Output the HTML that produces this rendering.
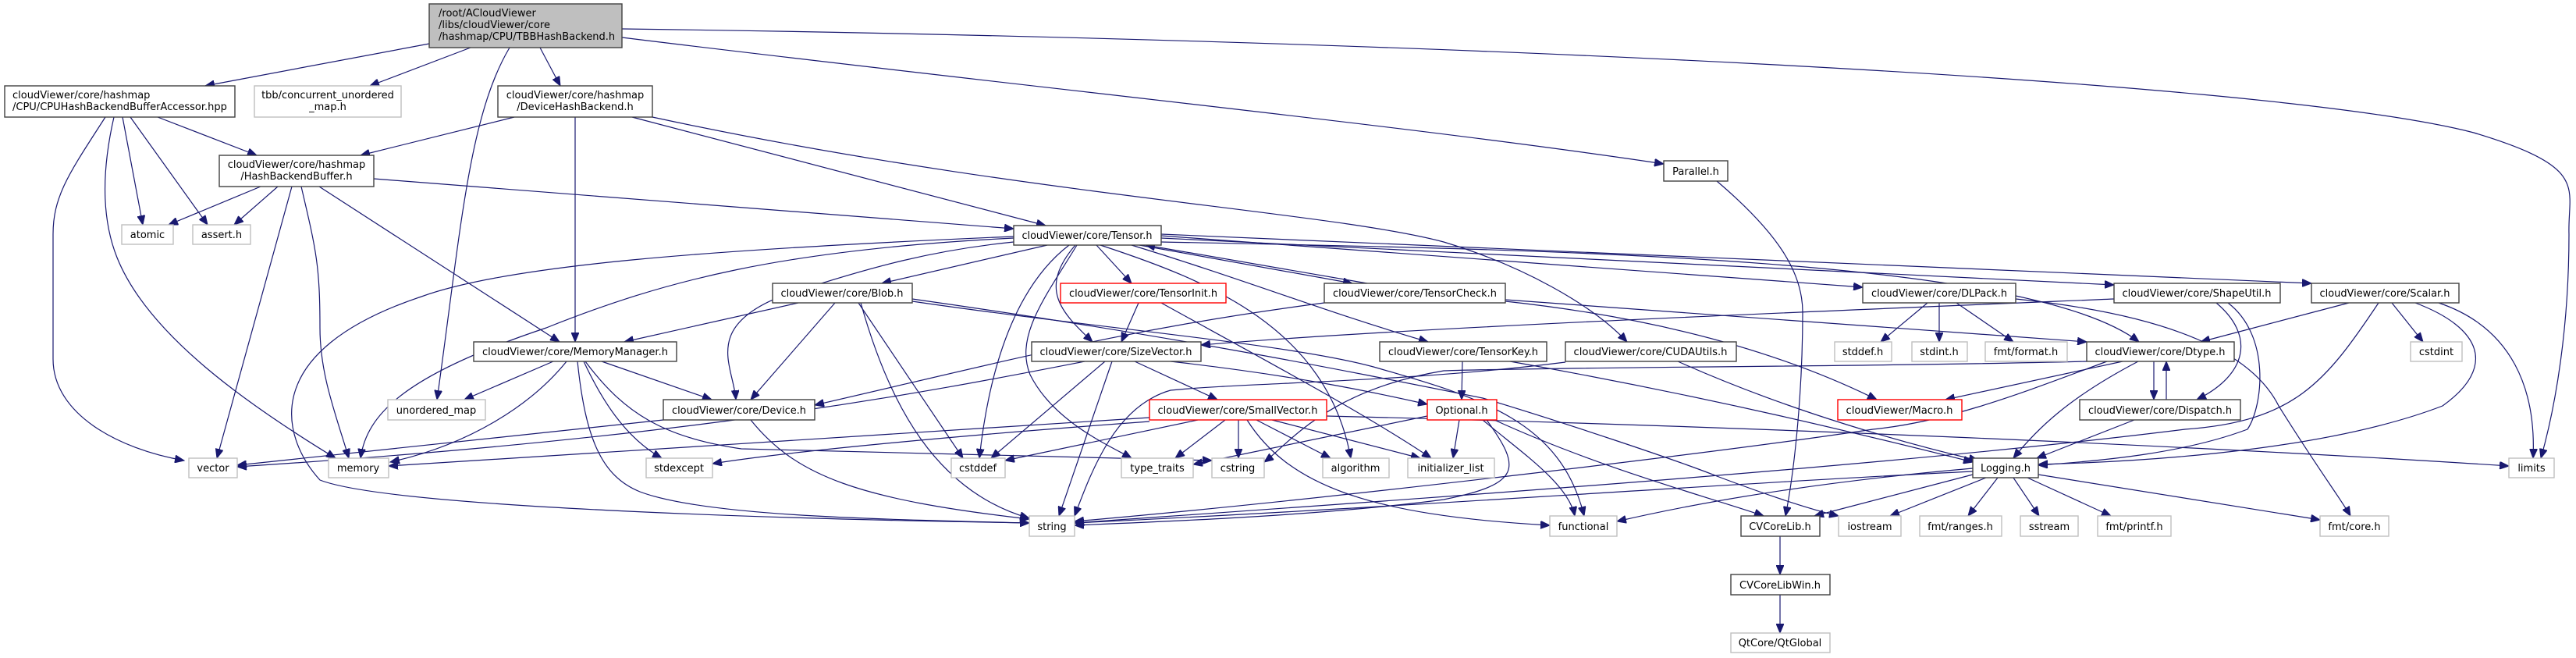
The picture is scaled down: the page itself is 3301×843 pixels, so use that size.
<!DOCTYPE html>
<html><head><meta charset="utf-8"><style>
html,body{margin:0;padding:0;background:#fff;}
svg{display:block;}
text{font-family:"DejaVu Sans","Liberation Sans",sans-serif;font-size:13px;fill:#000;}
.n rect{fill:#fff;stroke:#404040;stroke-width:1.4;}
.g rect{fill:#fff;stroke:#bfbfbf;stroke-width:1.4;}
.r rect{fill:#fff;stroke:#ff0000;stroke-width:1.4;}
path.e{fill:none;stroke:#191970;stroke-width:1.2;marker-end:url(#a);}
</style></head><body>
<svg width="3301" height="843" viewBox="0 0 3301 843" xmlns="http://www.w3.org/2000/svg">
<defs><marker id="a" markerUnits="userSpaceOnUse" markerWidth="13" markerHeight="10" refX="12" refY="5" orient="auto"><path d="M0,0 L12,5 L0,10 z" fill="#191970" stroke="#191970"/></marker></defs>
<g>
<!-- root edges -->
<path class="e" d="M550,56 L263,110"/>
<path class="e" d="M603,61 L474,110"/>
<path class="e" d="M653,61 C600,150 590,300 560,512"/>
<path class="e" d="M692,61 L718,110"/>
<path class="e" d="M797,48 C1300,110 1800,160 2132,210"/>
<path class="e" d="M797,37 C1800,50 2900,100 3170,170 C3320,215 3290,240 3292,300 C3292,420 3275,520 3256,587"/>
<!-- CPU accessor -->
<path class="e" d="M202,150 L329,199"/>
<path class="e" d="M157,150 L183,288"/>
<path class="e" d="M167,150 L266,288"/>
<path class="e" d="M135,150 C90,220 68,250 68,300 L68,460 C68,530 150,575 236,590"/>
<path class="e" d="M146,150 C130,220 130,280 150,330 C190,430 320,520 430,587"/>
<!-- HashBackendBuffer -->
<path class="e" d="M334,239 L216,288"/>
<path class="e" d="M356,239 L300,288"/>
<path class="e" d="M374,239 L278,587"/>
<path class="e" d="M386,239 C405,320 410,340 410,420 C410,480 430,530 447,587"/>
<path class="e" d="M409,239 L717,438"/>
<path class="e" d="M479,229 L1299,293"/>
<!-- DeviceHashBackend -->
<path class="e" d="M659,150 L462,199"/>
<path class="e" d="M737,150 L737,438"/>
<path class="e" d="M810,150 L1340,289"/>
<path class="e" d="M836,150 C1300,250 1700,270 1850,310 C1950,340 2040,390 2085,438"/>
<!-- MemoryManager -->
<path class="e" d="M709,463 L595,512"/>
<path class="e" d="M726,463 C680,520 600,570 500,592"/>
<path class="e" d="M771,463 L912,512"/>
<path class="e" d="M748,463 C770,510 800,560 848,587"/>
<path class="e" d="M740,463 C750,560 770,610 820,630 C900,660 1100,665 1319,670"/>
<path class="e" d="M750,463 C800,530 850,560 950,575 C1200,580 1400,585 1553,590"/>
<!-- Device -->
<path class="e" d="M850,538 L304,596"/>
<path class="e" d="M962,538 C1020,610 1100,640 1319,665"/>
<!-- Blob -->
<path class="e" d="M1023,388 L800,438"/>
<path class="e" d="M1070,388 L962,512"/>
<path class="e" d="M1100,388 L1234,587"/>
<path class="e" d="M1103,388 C1140,520 1200,630 1319,664"/>
<path class="e" d="M1169,383 C1500,430 1700,470 1900,510 C2000,540 2150,590 2200,610 C2280,640 2330,655 2356,661"/>
<path class="e" d="M1169,386 C1400,420 1650,440 1760,470 C1900,510 2000,540 2030,661"/>
<!-- Tensor -->
<path class="e" d="M1342,314 L1130,363"/>
<path class="e" d="M1405,314 L1450,363"/>
<path class="e" d="M1460,314 L1733,363"/>
<path class="e" d="M1752,363 L1468,314"/>
<path class="e" d="M1378,314 C1330,370 1360,400 1400,438"/>
<path class="e" d="M1370,314 C1310,360 1270,450 1255,587"/>
<path class="e" d="M1380,314 C1340,380 1300,430 1320,480 C1350,540 1420,570 1450,587"/>
<path class="e" d="M1410,314 C1550,360 1700,420 1731,587"/>
<path class="e" d="M1450,314 C1600,360 1700,400 1830,438"/>
<path class="e" d="M1488,302 L2387,368"/>
<path class="e" d="M1488,305 L2709,365"/>
<path class="e" d="M1488,300 L2962,363"/>
<path class="e" d="M1488,310 C2000,320 2600,330 2741,438"/>
<path class="e" d="M1299,310 C1200,320 1120,340 1000,380 C900,420 940,470 943,512"/>
<path class="e" d="M1299,305 C1000,320 850,360 700,420 C520,480 470,530 462,587"/>
<path class="e" d="M1299,303 C900,320 650,340 540,380 C330,450 360,560 410,615 C500,650 1000,665 1319,670"/>
<!-- TensorInit -->
<path class="e" d="M1459,388 L1437,438"/>
<path class="e" d="M1488,388 C1600,450 1750,530 1834,587"/>
<!-- TensorCheck -->
<path class="e" d="M1697,388 C1450,420 1300,460 1044,519"/>
<path class="e" d="M1929,384 L2674,438"/>
<path class="e" d="M1929,386 C2150,410 2300,460 2405,512"/>
<!-- TensorKey -->
<path class="e" d="M1874,463 L1873,512"/>
<path class="e" d="M1935,463 C2200,510 2400,560 2528,592"/>
<!-- CUDAUtils -->
<path class="e" d="M2150,463 C2300,530 2450,570 2535,590"/>
<path class="e" d="M2006,464 C1800,490 1600,490 1500,500 C1430,520 1400,600 1377,661"/>
<!-- SizeVector -->
<path class="e" d="M1454,463 L1560,512"/>
<path class="e" d="M1500,463 C1650,480 1750,500 1829,518"/>
<path class="e" d="M1416,463 L1270,587"/>
<path class="e" d="M1425,463 L1357,661"/>
<path class="e" d="M1390,463 C1200,500 900,560 304,598"/>
<path class="e" d="M2709,383 C2300,400 1800,420 1539,442"/>
<!-- SmallVector -->
<path class="e" d="M1535,538 L1288,590"/>
<path class="e" d="M1570,538 L1506,587"/>
<path class="e" d="M1587,538 L1587,587"/>
<path class="e" d="M1610,538 L1705,587"/>
<path class="e" d="M1630,538 L1820,587"/>
<path class="e" d="M1598,538 C1650,620 1750,660 1986,673"/>
<path class="e" d="M1473,535 C1200,550 800,580 498,597"/>
<path class="e" d="M1473,540 C1200,560 1000,580 913,594"/>
<path class="e" d="M1700,533 C2200,545 2800,570 3215,597"/>
<!-- Optional -->
<path class="e" d="M1870,538 L1862,587"/>
<path class="e" d="M1829,533 L1529,595"/>
<path class="e" d="M1900,538 C1950,580 2010,620 2018,661"/>
<path class="e" d="M1905,538 C1950,600 1950,620 1850,640 C1700,660 1500,668 1377,673"/>
<path class="e" d="M1915,538 C2050,600 2200,640 2260,661"/>
<!-- Dtype -->
<path class="e" d="M2720,463 L2493,512"/>
<path class="e" d="M2760,463 L2760,512"/>
<path class="e" d="M2776,512 L2776,463"/>
<path class="e" d="M2740,463 C2650,510 2610,550 2580,587"/>
<path class="e" d="M2700,463 C2600,500 2500,540 2400,550 C2200,580 1700,640 1377,668"/>
<path class="e" d="M2674,463 C2400,470 2000,470 1850,475 C1700,500 1650,570 1620,592"/>
<!-- Dispatch -->
<path class="e" d="M2735,538 L2610,587"/>
<!-- ShapeUtil -->
<path class="e" d="M2840,388 C2890,430 2880,480 2815,512"/>
<path class="e" d="M2855,388 C2910,430 2900,520 2880,550 C2800,580 2700,590 2612,596"/>
<!-- Scalar -->
<path class="e" d="M3010,388 L2820,438"/>
<path class="e" d="M3065,388 L3105,438"/>
<path class="e" d="M3125,388 C3220,420 3250,500 3246,587"/>
<path class="e" d="M3095,388 C3180,420 3200,470 3130,520 C3000,570 2800,590 2612,595"/>
<path class="e" d="M3048,388 C2980,490 2940,540 2800,550 C2400,600 1800,640 1377,670"/>
<!-- DLPack -->
<path class="e" d="M2470,388 L2410,438"/>
<path class="e" d="M2485,388 L2485,438"/>
<path class="e" d="M2507,388 L2580,438"/>
<path class="e" d="M2583,383 C2750,400 2880,440 2920,520 C2970,600 3000,640 3012,661"/>
<!-- Logging -->
<path class="e" d="M2528,608 L2325,661"/>
<path class="e" d="M2545,612 L2422,661"/>
<path class="e" d="M2560,612 L2522,661"/>
<path class="e" d="M2580,612 L2613,661"/>
<path class="e" d="M2598,612 L2705,661"/>
<path class="e" d="M2612,608 L2973,666"/>
<path class="e" d="M2528,604 C2200,620 1800,650 1377,670"/>
<path class="e" d="M2528,600 C2300,620 2150,650 2072,668"/>
<!-- Parallel / CVCoreLib -->
<path class="e" d="M2200,232 C2280,300 2310,350 2310,400 C2310,500 2300,600 2288,661"/>
<path class="e" d="M2281,687 L2281,736"/>
<path class="e" d="M2281,762 L2281,811"/>
</g>
<!-- nodes -->
<g class="n"><rect x="550" y="5" width="247" height="56" style="fill:#bfbfbf"/><text x="562" y="21">/root/ACloudViewer</text><text x="562" y="36">/libs/cloudViewer/core</text><text x="562" y="51">/hashmap/CPU/TBBHashBackend.h</text></g>
<g class="n"><rect x="6" y="110" width="295" height="40"/><text x="16" y="126">cloudViewer/core/hashmap</text><text x="16" y="141">/CPU/CPUHashBackendBufferAccessor.hpp</text></g>
<g class="g"><rect x="326" y="110" width="188" height="40"/><text x="420" y="126" text-anchor="middle">tbb/concurrent_unordered</text><text x="420" y="141" text-anchor="middle">_map.h</text></g>
<g class="n"><rect x="638" y="110" width="198" height="40"/><text x="737" y="126" text-anchor="middle">cloudViewer/core/hashmap</text><text x="737" y="141" text-anchor="middle">/DeviceHashBackend.h</text></g>
<g class="n"><rect x="281" y="199" width="198" height="40"/><text x="380" y="215" text-anchor="middle">cloudViewer/core/hashmap</text><text x="380" y="230" text-anchor="middle">/HashBackendBuffer.h</text></g>
<g class="n"><rect x="2132" y="206" width="82" height="26"/><text x="2173" y="224" text-anchor="middle">Parallel.h</text></g>
<g class="n"><rect x="1299" y="289" width="189" height="25"/><text x="1393" y="306" text-anchor="middle" textLength="167" lengthAdjust="spacingAndGlyphs">cloudViewer/core/Tensor.h</text></g>
<g class="g"><rect x="156" y="288" width="66" height="25"/><text x="189" y="305" text-anchor="middle">atomic</text></g>
<g class="g"><rect x="247" y="288" width="74" height="25"/><text x="284" y="305" text-anchor="middle">assert.h</text></g>
<g class="n"><rect x="990" y="363" width="179" height="25"/><text x="1079" y="380" text-anchor="middle" textLength="157" lengthAdjust="spacingAndGlyphs">cloudViewer/core/Blob.h</text></g>
<g class="r"><rect x="1359" y="363" width="212" height="25"/><text x="1465" y="380" text-anchor="middle" textLength="190" lengthAdjust="spacingAndGlyphs">cloudViewer/core/TensorInit.h</text></g>
<g class="n"><rect x="1697" y="363" width="232" height="25"/><text x="1813" y="380" text-anchor="middle" textLength="210" lengthAdjust="spacingAndGlyphs">cloudViewer/core/TensorCheck.h</text></g>
<g class="n"><rect x="2387" y="363" width="196" height="25"/><text x="2485" y="380" text-anchor="middle" textLength="174" lengthAdjust="spacingAndGlyphs">cloudViewer/core/DLPack.h</text></g>
<g class="n"><rect x="2709" y="363" width="213" height="25"/><text x="2815" y="380" text-anchor="middle" textLength="191" lengthAdjust="spacingAndGlyphs">cloudViewer/core/ShapeUtil.h</text></g>
<g class="n"><rect x="2962" y="363" width="189" height="25"/><text x="3056" y="380" text-anchor="middle" textLength="167" lengthAdjust="spacingAndGlyphs">cloudViewer/core/Scalar.h</text></g>
<g class="n"><rect x="607" y="438" width="260" height="25"/><text x="737" y="455" text-anchor="middle" textLength="238" lengthAdjust="spacingAndGlyphs">cloudViewer/core/MemoryManager.h</text></g>
<g class="n"><rect x="1322" y="438" width="217" height="25"/><text x="1430" y="455" text-anchor="middle" textLength="195" lengthAdjust="spacingAndGlyphs">cloudViewer/core/SizeVector.h</text></g>
<g class="n"><rect x="1768" y="438" width="214" height="25"/><text x="1875" y="455" text-anchor="middle" textLength="192" lengthAdjust="spacingAndGlyphs">cloudViewer/core/TensorKey.h</text></g>
<g class="n"><rect x="2006" y="438" width="219" height="25"/><text x="2115" y="455" text-anchor="middle" textLength="197" lengthAdjust="spacingAndGlyphs">cloudViewer/core/CUDAUtils.h</text></g>
<g class="g"><rect x="2351" y="438" width="73" height="25"/><text x="2387" y="455" text-anchor="middle">stddef.h</text></g>
<g class="g"><rect x="2450" y="438" width="71" height="25"/><text x="2485" y="455" text-anchor="middle">stdint.h</text></g>
<g class="g"><rect x="2544" y="438" width="105" height="25"/><text x="2596" y="455" text-anchor="middle">fmt/format.h</text></g>
<g class="n"><rect x="2674" y="438" width="189" height="25"/><text x="2768" y="455" text-anchor="middle" textLength="167" lengthAdjust="spacingAndGlyphs">cloudViewer/core/Dtype.h</text></g>
<g class="g"><rect x="3089" y="438" width="66" height="25"/><text x="3122" y="455" text-anchor="middle">cstdint</text></g>
<g class="g"><rect x="497" y="512" width="125" height="26"/><text x="559" y="530" text-anchor="middle">unordered_map</text></g>
<g class="n"><rect x="850" y="512" width="194" height="26"/><text x="947" y="530" text-anchor="middle" textLength="172" lengthAdjust="spacingAndGlyphs">cloudViewer/core/Device.h</text></g>
<g class="r"><rect x="1473" y="512" width="227" height="26"/><text x="1586" y="530" text-anchor="middle" textLength="205" lengthAdjust="spacingAndGlyphs">cloudViewer/core/SmallVector.h</text></g>
<g class="r"><rect x="1829" y="512" width="89" height="26"/><text x="1873" y="530" text-anchor="middle">Optional.h</text></g>
<g class="r"><rect x="2355" y="512" width="159" height="26"/><text x="2434" y="530" text-anchor="middle" textLength="137" lengthAdjust="spacingAndGlyphs">cloudViewer/Macro.h</text></g>
<g class="n"><rect x="2665" y="512" width="206" height="26"/><text x="2768" y="530" text-anchor="middle" textLength="184" lengthAdjust="spacingAndGlyphs">cloudViewer/core/Dispatch.h</text></g>
<g class="g"><rect x="242" y="587" width="62" height="25"/><text x="273" y="604" text-anchor="middle">vector</text></g>
<g class="g"><rect x="421" y="587" width="77" height="25"/><text x="459" y="604" text-anchor="middle">memory</text></g>
<g class="g"><rect x="828" y="587" width="85" height="25"/><text x="870" y="604" text-anchor="middle">stdexcept</text></g>
<g class="g"><rect x="1219" y="587" width="69" height="25"/><text x="1253" y="604" text-anchor="middle">cstddef</text></g>
<g class="g"><rect x="1437" y="587" width="92" height="25"/><text x="1483" y="604" text-anchor="middle">type_traits</text></g>
<g class="g"><rect x="1553" y="587" width="67" height="25"/><text x="1586" y="604" text-anchor="middle">cstring</text></g>
<g class="g"><rect x="1695" y="587" width="85" height="25"/><text x="1737" y="604" text-anchor="middle">algorithm</text></g>
<g class="g"><rect x="1804" y="587" width="111" height="25"/><text x="1859" y="604" text-anchor="middle">initializer_list</text></g>
<g class="n"><rect x="2528" y="587" width="84" height="25"/><text x="2570" y="604" text-anchor="middle">Logging.h</text></g>
<g class="g"><rect x="3215" y="587" width="58" height="25"/><text x="3244" y="604" text-anchor="middle">limits</text></g>
<g class="g"><rect x="1319" y="661" width="58" height="26"/><text x="1348" y="679" text-anchor="middle">string</text></g>
<g class="g"><rect x="1986" y="661" width="86" height="26"/><text x="2029" y="679" text-anchor="middle">functional</text></g>
<g class="n"><rect x="2231" y="661" width="101" height="26"/><text x="2281" y="679" text-anchor="middle">CVCoreLib.h</text></g>
<g class="g"><rect x="2356" y="661" width="80" height="26"/><text x="2396" y="679" text-anchor="middle">iostream</text></g>
<g class="g"><rect x="2460" y="661" width="105" height="26"/><text x="2512" y="679" text-anchor="middle">fmt/ranges.h</text></g>
<g class="g"><rect x="2589" y="661" width="74" height="26"/><text x="2626" y="679" text-anchor="middle">sstream</text></g>
<g class="g"><rect x="2688" y="661" width="94" height="26"/><text x="2735" y="679" text-anchor="middle">fmt/printf.h</text></g>
<g class="g"><rect x="2973" y="661" width="88" height="26"/><text x="3017" y="679" text-anchor="middle">fmt/core.h</text></g>
<g class="n"><rect x="2218" y="736" width="127" height="26"/><text x="2281" y="754" text-anchor="middle">CVCoreLibWin.h</text></g>
<g class="g"><rect x="2218" y="811" width="127" height="25"/><text x="2281" y="828" text-anchor="middle">QtCore/QtGlobal</text></g>
</svg>
</body></html>
